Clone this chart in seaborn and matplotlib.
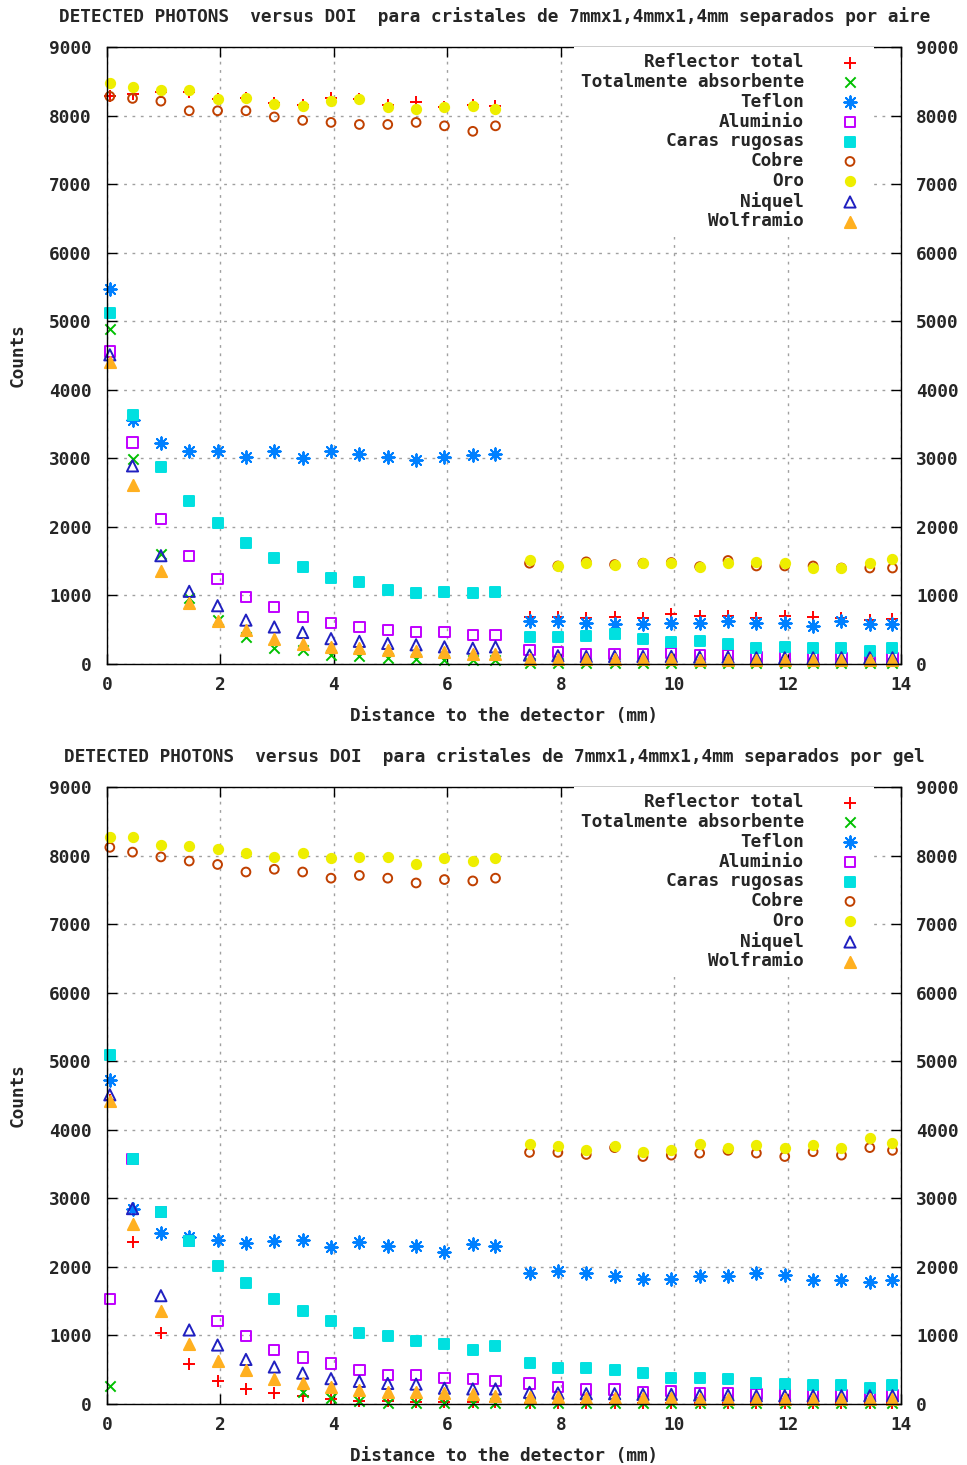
import numpy as np
import pandas as pd
import matplotlib
matplotlib.use("Agg")
import matplotlib.pyplot as plt
import seaborn as sns

nan = np.nan

# ---------------- data ----------------
x_mm = [0.05, 0.45, 0.95, 1.45, 1.95, 2.45, 2.95, 3.45, 3.95, 4.45, 4.95, 5.45, 5.95, 6.45, 6.85,
        7.45, 7.95, 8.45, 8.95, 9.45, 9.95, 10.45, 10.95, 11.45, 11.95, 12.45, 12.95, 13.45, 13.85]

series_names = ["Reflector total", "Totalmente absorbente", "Teflon", "Aluminio",
                "Caras rugosas", "Cobre", "Oro", "Niquel", "Wolframio"]

# --- separados por aire ---
reflector_aire = [8280, 8320, 8350, 8350, 8240, 8260, 8180, 8150, 8260, 8240, 8150, 8200, 8130, 8150, 8140,
                  690, 680, 670, 690, 670, 730, 700, 700, 670, 700, 690, 670, 640, 650]
absorb_aire = [4880, 2990, 1610, 960, 640, 400, 240, 200, 130, 110, 90, 80, 60, 60, 60,
               10, 10, 10, 10, 10, 10, 10, 10, 10, 10, 10, 10, 10, 10]
teflon_aire = [5470, 3560, 3230, 3110, 3110, 3020, 3110, 3000, 3100, 3070, 3020, 2980, 3020, 3050, 3070,
               630, 630, 600, 590, 590, 600, 600, 630, 600, 600, 550, 620, 580, 590]
aluminio_aire = [4560, 3230, 2110, 1580, 1240, 980, 830, 690, 600, 540, 500, 470, 470, 420, 420,
                 200, 170, 150, 150, 150, 160, 130, 130, 100, 100, 100, 90, 100, 90]
caras_aire = [5120, 3630, 2870, 2380, 2060, 1770, 1550, 1410, 1260, 1190, 1080, 1030, 1050, 1030, 1050,
              390, 390, 410, 440, 360, 320, 340, 290, 230, 250, 230, 230, 190, 230]
cobre_aire = [8280, 8250, 8210, 8070, 8070, 8070, 7980, 7930, 7900, 7870, 7870, 7900, 7850, 7770, 7850,
              1470, 1430, 1490, 1450, 1470, 1480, 1420, 1510, 1430, 1430, 1430, 1400, 1400, 1400]
oro_aire = [8470, 8420, 8370, 8370, 8240, 8260, 8170, 8140, 8210, 8240, 8120, 8090, 8120, 8140, 8090,
            1510, 1430, 1470, 1450, 1470, 1480, 1420, 1470, 1490, 1480, 1400, 1400, 1480, 1530]
niquel_aire = [4510, 2890, 1580, 1060, 850, 640, 540, 460, 370, 330, 300, 280, 250, 230, 250,
               130, 120, 110, 110, 110, 110, 100, 100, 90, 90, 90, 90, 90, 90]
wolf_aire = [4410, 2610, 1360, 890, 630, 500, 360, 290, 250, 230, 200, 190, 170, 150, 150,
             80, 80, 70, 70, 70, 70, 60, 60, 60, 60, 60, 60, 60, 60]

# --- separados por gel ---
reflector_gel = [4430, 2370, 1030, 590, 340, 220, 160, 110, 70, 50, 40, 30, 30, 30, 30,
                 10, 10, 10, 10, 10, 10, 10, 10, 10, 10, 10, 10, 10, 10]
absorb_gel = [260, nan, nan, nan, nan, nan, nan, 170, 90, 40, 20, 20, 10, 10, 10,
              10, 10, 10, 10, 10, 10, 10, 10, 10, 10, 10, 10, 10, 10]
teflon_gel = [4730, 2850, 2490, 2440, 2390, 2350, 2380, 2390, 2290, 2360, 2300, 2300, 2220, 2330, 2300,
              1910, 1940, 1910, 1860, 1830, 1830, 1860, 1860, 1910, 1880, 1810, 1810, 1780, 1810]
aluminio_gel = [1530, 3570, 2800, 2380, 1210, 990, 790, 680, 590, 500, 420, 420, 380, 360, 340,
                300, 250, 210, 210, 180, 190, 160, 160, 150, 150, 140, 130, 130, 130]
caras_gel = [5090, 3570, 2800, 2380, 2010, 1770, 1530, 1350, 1210, 1030, 990, 920, 880, 790, 840,
             600, 520, 520, 500, 450, 380, 380, 360, 310, 290, 270, 270, 240, 270]
cobre_gel = [8120, 8050, 7980, 7920, 7870, 7760, 7800, 7760, 7670, 7710, 7670, 7600, 7650, 7630, 7670,
             3670, 3670, 3640, 3740, 3610, 3630, 3660, 3700, 3660, 3610, 3680, 3630, 3740, 3700]
oro_gel = [8270, 8270, 8160, 8140, 8090, 8030, 7980, 8030, 7960, 7980, 7980, 7870, 7960, 7920, 7960,
           3790, 3760, 3710, 3760, 3680, 3710, 3790, 3740, 3780, 3740, 3780, 3740, 3880, 3810]
niquel_gel = [4510, 2850, 1580, 1080, 860, 650, 540, 450, 370, 330, 300, 290, 230, 220, 220,
              170, 160, 150, 150, 140, 140, 130, 130, 120, 120, 120, 120, 120, 120]
wolf_gel = [4420, 2620, 1350, 880, 620, 490, 370, 310, 250, 210, 180, 170, 160, 140, 110,
            100, 100, 90, 90, 90, 90, 80, 80, 80, 80, 80, 80, 80, 80]

panels = [
    ("DETECTED PHOTONS  versus DOI  para cristales de 7mmx1,4mmx1,4mm separados por aire",
     [reflector_aire, absorb_aire, teflon_aire, aluminio_aire, caras_aire,
      cobre_aire, oro_aire, niquel_aire, wolf_aire]),
    ("DETECTED PHOTONS  versus DOI  para cristales de 7mmx1,4mmx1,4mm separados por gel",
     [reflector_gel, absorb_gel, teflon_gel, aluminio_gel, caras_gel,
      cobre_gel, oro_gel, niquel_gel, wolf_gel]),
]

x_ticks = [0, 2, 4, 6, 8, 10, 12, 14]
y_ticks = [0, 1000, 2000, 3000, 4000, 5000, 6000, 7000, 8000, 9000]

# ---------------- styles ----------------
colors = ["#ff0000", "#00c000", "#0080ff", "#c000ff", "#00e0e0",
          "#c04000", "#eeee00", "#2020c0", "#ffb020"]
markers = ["+", "x", (8, 2, 0), "s", "s", "o", "o", "^", "^"]
filled = [None, None, None, False, True, False, True, False, True]
sizes = [80, 55, 80, 55, 55, 40, 45, 65, 65]

sns.set_style("ticks")
plt.rcParams["font.family"] = ["DejaVu Sans Mono", "DejaVu Sans"]
plt.rcParams["font.weight"] = "bold"
FS = 12.8

fig = plt.figure(figsize=(9.67, 14.65), dpi=100)
W, H = 967.0, 1465.0
ax_boxes = [(107, 47, 901, 664), (107, 787, 901, 1404)]

for (title, data), (l, t, r, b) in zip(panels, ax_boxes):
    ax = fig.add_axes([l / W, 1 - b / H, (r - l) / W, (b - t) / H])
    for name, vals, col, mk, fl, sz in zip(series_names, data, colors, markers, filled, sizes):
        df = pd.DataFrame({"x": x_mm, "y": vals})
        kw = dict(marker=mk, s=sz, color=col, edgecolor=col, linewidth=1.4,
                  clip_on=False, label=name)
        if fl is False:
            kw["facecolor"] = "none"
        sns.scatterplot(data=df, x="x", y="y", ax=ax, **kw)

    ax.set_xlim(0, 14)
    ax.set_ylim(0, 9000)
    ax.set_xticks(x_ticks)
    ax.set_yticks(y_ticks)
    ax.set_xticklabels([str(v) for v in x_ticks])
    ax.set_yticklabels([str(v) for v in y_ticks])
    ax.tick_params(axis="both", direction="in", length=7, width=1, color="black",
                   top=True, right=True, labelright=True, labelsize=FS)
    ax.tick_params(axis="x", pad=9)
    ax.tick_params(axis="y", pad=11)
    for sp in ax.spines.values():
        sp.set_visible(True)
        sp.set_color("black")
        sp.set_linewidth(1.0)
    ax.set_axisbelow(True)
    ax.grid(True, color="#a0a0a0", linestyle=(0, (2, 4)), linewidth=1.0)
    ax.set_xlabel("Distance to the detector (mm)", fontsize=FS, fontweight="bold", labelpad=9)
    ax.set_ylabel("Counts", fontsize=FS, fontweight="bold", labelpad=16)
    ax.set_title(title, fontsize=FS, fontweight="bold", pad=18, x=0.488)

    leg = ax.legend(loc="upper right", bbox_to_anchor=(0.966, 1.0), borderaxespad=0,
                    markerfirst=False, frameon=True, fancybox=False, framealpha=1,
                    facecolor="white", edgecolor="none", fontsize=FS, labelspacing=0.1,
                    handlelength=2.0, handletextpad=1.6, borderpad=0.35, scatterpoints=1)
    for txt in leg.get_texts():
        txt.set_fontweight("bold")

fig.savefig("out.png", dpi=100)
